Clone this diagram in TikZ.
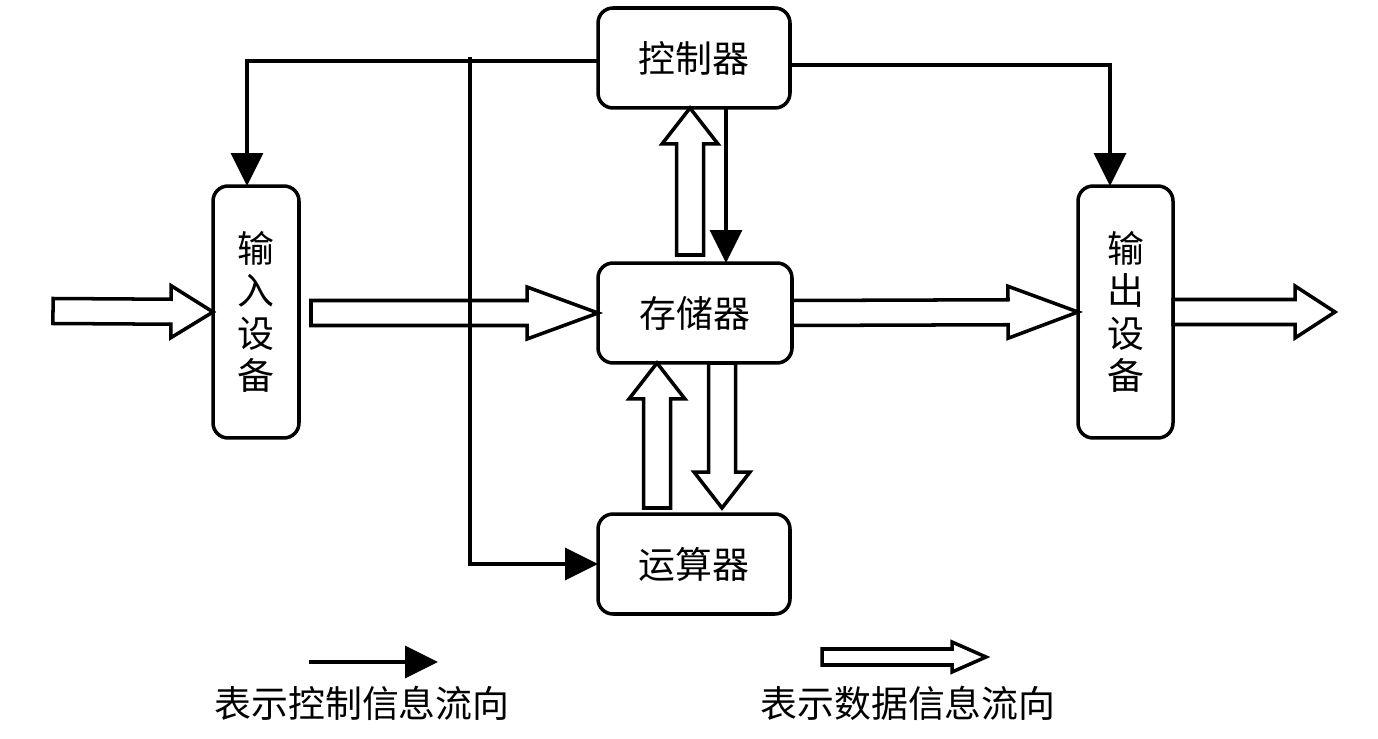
\documentclass[tikz,border=0pt]{standalone}
\usepackage{fontspec}
\newfontfamily\cjkfont{Noto Sans CJK SC}
\usepackage{tikz}
\usetikzlibrary{calc,arrows.meta}
\tikzset{
  unitbox/.style={draw, line width=2pt, rounded corners=0.3cm, outer sep=0pt,
    font=\cjkfont\fontsize{21}{24}\selectfont, align=center},
  ctrlline/.style={line width=2pt, -{Triangle[length=0.66cm,width=0.64cm]}},
  dataline/.style={line width=2pt, line join=miter},
  legendtext/.style={font=\cjkfont\fontsize{21}{24}\selectfont},
}
% hollow data arrow: start, end, head length, shaft half width, head half width
\newcommand{\dataarrow}[5]{%
  \coordinate (hb) at ($(#2)!#3!(#1)$);
  \draw[dataline] ($(#1)!#4!90:(#2)$) -- ($(hb)!#4!90:(#2)$) -- ($(hb)!#5!90:(#2)$) -- (#2)
    -- ($(hb)!#5!-90:(#2)$) -- ($(hb)!#4!-90:(#2)$) -- ($(#1)!#4!-90:(#2)$) -- cycle;}

\begin{document}
\begin{tikzpicture}[x=0.02cm, y=-0.02cm]
  \useasboundingbox (0,0) rectangle (1378,739);
  % units
  \node[unitbox, minimum width=3.84cm, minimum height=2cm] (ctrl) at (694,58) {控制器};
  \node[unitbox, minimum width=3.88cm, minimum height=2cm] (mem) at (695,313) {存储器};
  \node[unitbox, minimum width=3.84cm, minimum height=2cm] (alu) at (694,564) {运算器};
  \node[unitbox, minimum width=1.72cm, minimum height=5.04cm] (inp) at (256,312) {输\\入\\设\\备};
  \node[unitbox, minimum width=1.9cm, minimum height=5.04cm] (outp) at (1125.5,312) {输\\出\\设\\备};

  % control flow
  \draw[ctrlline] ([yshift=-0.06cm]ctrl.west) -| ([xshift=-0.18cm]inp.north);
  \coordinate (branch) at (470,61);
  \draw[line width=2pt] (branch) -- +(0,-4);
  \draw[ctrlline] (branch) |- (alu.west);
  \draw[ctrlline] ([yshift=-0.14cm]ctrl.east) -| ([xshift=-0.31cm]outp.north);
  \coordinate (c2m) at ([xshift=0.64cm]ctrl.south);
  \draw[ctrlline] (c2m) -- (c2m |- mem.north);

  % data flow
  \coordinate (src) at (53,311);
  \coordinate (inp-a) at (311,313);
  \coordinate (dst) at (1335,312);
  \coordinate (m2c-a) at (690,255);
  \coordinate (m2c-b) at (m2c-a |- ctrl.south);
  \coordinate (a2m-a) at (657,508);
  \coordinate (a2m-b) at (a2m-a |- mem.south);
  \coordinate (m2a-a) at (722,363);
  \coordinate (m2a-b) at (722,508);
  \dataarrow{src}{inp.west}{0.84cm}{0.25cm}{0.52cm}
  \dataarrow{inp-a}{mem.west}{1.42cm}{0.25cm}{0.52cm}
  \dataarrow{mem.east}{outp.west}{1.4cm}{0.25cm}{0.52cm}
  \dataarrow{outp.east}{dst}{0.8cm}{0.25cm}{0.52cm}
  \dataarrow{m2c-a}{m2c-b}{0.72cm}{0.27cm}{0.56cm}
  \dataarrow{a2m-a}{a2m-b}{0.72cm}{0.27cm}{0.56cm}
  \dataarrow{m2a-a}{m2a-b}{0.72cm}{0.27cm}{0.56cm}

  % legend
  \coordinate (lg-c1) at (309,662);
  \coordinate (lg-c2) at (438,662);
  \draw[ctrlline] (lg-c1) -- (lg-c2);
  \node[legendtext] (lg-ctrl) at (362,703) {表示控制信息流向};
  \coordinate (lg-d1) at (822,657);
  \coordinate (lg-d2) at (986,657);
  \dataarrow{lg-d1}{lg-d2}{0.68cm}{0.16cm}{0.3cm}
  \node[legendtext] (lg-data) at (908,703) {表示数据信息流向};
\end{tikzpicture}
\end{document}
